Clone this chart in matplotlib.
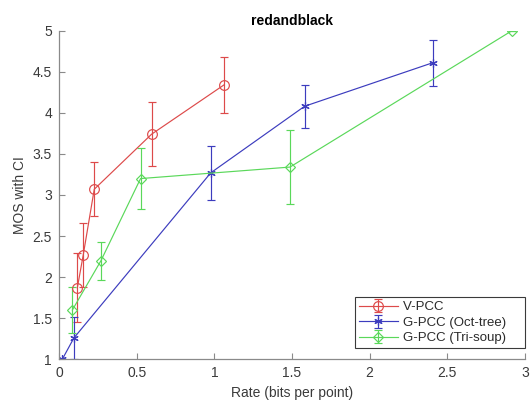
import matplotlib
matplotlib.use("Agg")
import matplotlib.pyplot as plt

plt.rcParams['font.family'] = ['Liberation Sans', 'DejaVu Sans']

# V-PCC
vpcc_rate = [0.118, 0.156, 0.227, 0.596, 1.062]
vpcc_mos = [1.87, 2.27, 3.07, 3.74, 4.34]
vpcc_ci = [0.42, 0.39, 0.33, 0.39, 0.34]

# G-PCC (Oct-tree)
oct_rate = [0.021, 0.096, 0.977, 1.581, 2.406]
oct_mos = [1.00, 1.26, 3.27, 4.08, 4.61]
oct_ci = [0.0, 0.26, 0.33, 0.26, 0.28]

# G-PCC (Tri-soup)
tri_rate = [0.086, 0.270, 0.525, 1.487, 2.916]
tri_mos = [1.60, 2.20, 3.20, 3.34, 5.00]
tri_ci = [0.28, 0.23, 0.375, 0.45, 0.0]

labels = ['V-PCC', 'G-PCC (Oct-tree)', 'G-PCC (Tri-soup)']
xticks = [0, 0.5, 1, 1.5, 2, 2.5, 3]
yticks = [1, 1.5, 2, 2.5, 3, 3.5, 4, 4.5, 5]

fig = plt.figure(figsize=(5.32, 4.01), dpi=100)
ax = fig.add_axes([59 / 532, 1 - 359.3 / 401, (525 - 59) / 532, (359.3 - 30.7) / 401])

style = dict(capsize=3, elinewidth=0.85, capthick=0.85, linewidth=0.85)
ax.errorbar(vpcc_rate, vpcc_mos, yerr=vpcc_ci, color='#dd4a4a', marker='o',
            markersize=7, markerfacecolor='none', markeredgewidth=0.85,
            label=labels[0] + '    ', **style)
ax.errorbar(oct_rate, oct_mos, yerr=oct_ci, color='#3c3cbe', marker=(6, 2, 0),
            markersize=6, markeredgewidth=0.85,
            label=labels[1] + '    ', **style)
ax.errorbar(tri_rate, tri_mos, yerr=tri_ci, color='#5ad85a', marker='D',
            markersize=5.5, markerfacecolor='none', markeredgewidth=0.85,
            label=labels[2] + '    ', **style)

ax.set_xlim(0, 3)
ax.set_ylim(1, 5)
ax.set_xticks(xticks)
ax.set_xticklabels([f'{t:g}' for t in xticks])
ax.set_yticks(yticks)
ax.set_yticklabels([f'{t:g}' for t in yticks])

for side in ('top', 'right'):
    ax.spines[side].set_visible(False)
for side in ('left', 'bottom'):
    ax.spines[side].set_color('#8a8a8a')
    ax.spines[side].set_linewidth(0.9)
ax.tick_params(direction='in', length=4, width=0.8, color='#8a8a8a',
               labelsize=10, labelcolor='#3a3a3a', pad=5)

ax.set_title('redandblack', fontsize=10, fontweight='bold', pad=4)
ax.set_xlabel('Rate (bits per point)', fontsize=10, color='#3a3a3a', labelpad=4)
ax.set_ylabel('MOS with CI', fontsize=10, color='#3a3a3a', labelpad=4)

leg = ax.legend(loc='lower right', bbox_to_anchor=(1.0, 0.033), fontsize=9.5,
                fancybox=False, framealpha=1, edgecolor='#3a3a3a',
                handlelength=3.0, borderpad=0.3, labelspacing=0.25,
                handletextpad=0.4, borderaxespad=0.0)
leg.get_frame().set_linewidth(0.8)
for t in leg.get_texts():
    t.set_color('#2a2a2a')

fig.savefig('out.png', dpi=100)
